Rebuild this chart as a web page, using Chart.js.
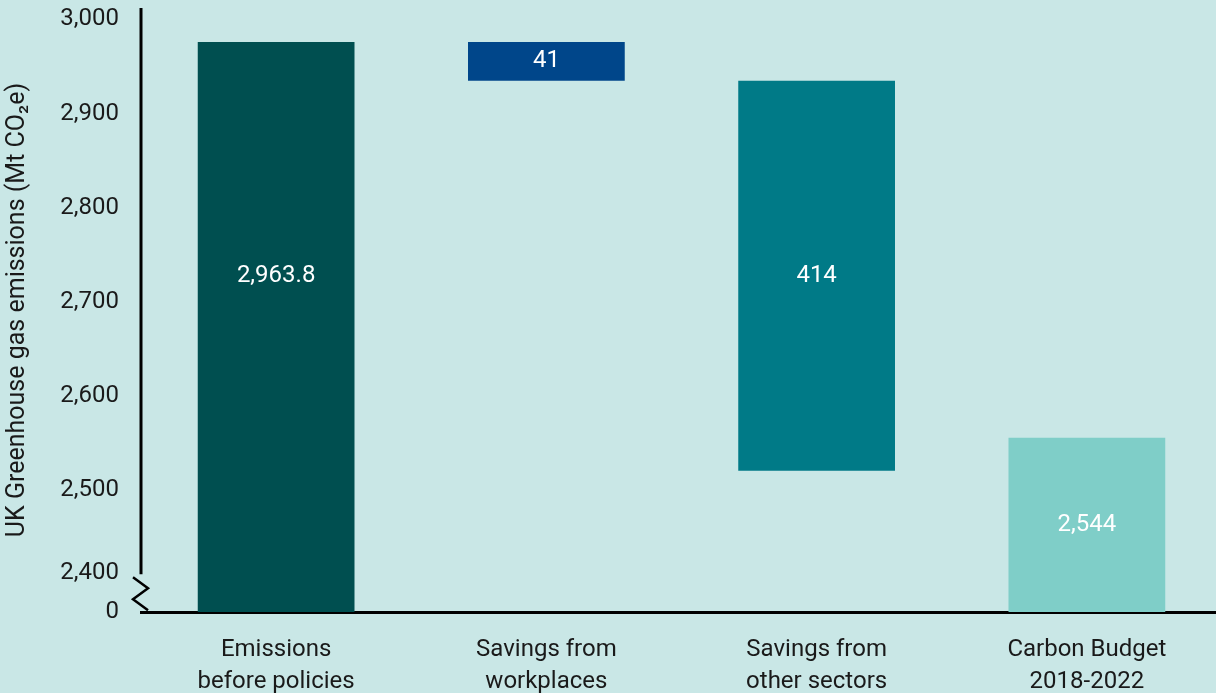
<!DOCTYPE html>
<html>
<head>
<meta charset="utf-8">
<script src="https://cdn.jsdelivr.net/npm/chart.js@4"></script>
<style>
  body { margin: 0; background: #c9e7e6; overflow: hidden; }
  #wrap { width: 1222px; height: 693px; position: relative; }
</style>
</head>
<body>
<div id="wrap"><canvas id="myChart"></canvas></div>
<script>
// data
var categories = [['Emissions', 'before policies'], ['Savings from', 'workplaces'], ['Savings from', 'other sectors'], ['Carbon Budget', '2018-2022']];
var startTotal = 2963.8;
var savings = [41, 414];
var budget = 2544;
var valueText = ['2,963.8', '41', '414', '2,544'];
var barColors = ['#004f50', '#00468a', '#007a87', '#7fcec8'];
var yTickValues = [0, 2400, 2500, 2600, 2700, 2800, 2900, 3000];
var yTickText = ['0', '2,400', '2,500', '2,600', '2,700', '2,800', '2,900', '3,000'];

// axis is broken between 0 and 2,400: bottom of plot stands for 0
var axisFloor = 2359;
var axisTop = 3000;
var labelDrop = 12;   // tick labels sit a little below their tick in the original

// waterfall steps
var afterWork = startTotal - savings[0];
var afterOther = afterWork - savings[1];
var floating = [
    [axisFloor, startTotal],
    [afterWork, startTotal],
    [afterOther, afterWork],
    [axisFloor, budget]
];

var FONT = 'Roboto, "Liberation Sans", sans-serif';
var INK = '#1a1a1a';

// y axis line with break mark + bar value labels
var extras = {
    id: 'extras',
    afterDraw: function(chart) {
        var ctx = chart.ctx;
        var area = chart.chartArea;
        var y = chart.scales.y;
        var x0 = area.left;
        var yb = y.getPixelForValue(2400) + 1;
        ctx.save();
        ctx.strokeStyle = '#000';
        ctx.lineWidth = 3;
        ctx.beginPath();
        ctx.moveTo(x0, area.top);
        ctx.lineTo(x0, yb);
        ctx.stroke();
        ctx.lineWidth = 2.5;
        ctx.beginPath();
        ctx.moveTo(x0 - 8, yb + 3);
        ctx.lineTo(x0 + 7, yb + 14);
        ctx.lineTo(x0 - 8, yb + 25);
        ctx.lineTo(x0 + 7, yb + 36);
        ctx.stroke();

        // value labels; first bar shares its label row with the third bar
        var meta = chart.getDatasetMeta(0);
        ctx.fillStyle = '#ffffff';
        ctx.font = '24px ' + FONT;
        ctx.textAlign = 'center';
        ctx.textBaseline = 'middle';
        var mid = function(el) { return (el.y + el.base) / 2; };
        meta.data.forEach(function(el, i) {
            var ly = mid(el);
            if (i === 0) ly = mid(meta.data[2]);
            ctx.fillText(valueText[i], el.x, ly);
        });
        ctx.restore();
    }
};

var ctx = document.getElementById('myChart');
var myChart = new Chart(ctx, {
    type: 'bar',
    data: {
        labels: categories,
        datasets: [{
            data: floating,
            backgroundColor: barColors,
            borderWidth: 0,
            borderSkipped: false,
            barPercentage: 0.58,
            categoryPercentage: 1
        }]
    },
    options: {
        responsive: true,
        maintainAspectRatio: false,
        animation: false,
        layout: { padding: { top: 8, right: 0, left: 0, bottom: 0 } },
        plugins: {
            legend: { display: false },
            tooltip: { enabled: false }
        },
        scales: {
            x: {
                grid: { display: false, drawTicks: false },
                border: { display: true, color: '#000', width: 3 },
                ticks: {
                    color: INK,
                    font: { family: FONT, size: 24, lineHeight: 1.33 },
                    padding: 22,
                    maxRotation: 0,
                    autoSkip: false
                },
                afterFit: function(s) {
                    s.height = 81;
                    s.paddingLeft = 0;
                    s.paddingRight = 0;
                }
            },
            y: {
                min: axisFloor,
                max: axisTop,
                grid: { display: false, drawTicks: false },
                border: { display: false },
                title: {
                    display: true,
                    text: 'UK Greenhouse gas emissions (Mt CO\u2082e)',
                    color: INK,
                    font: { family: FONT, size: 25 },
                    padding: { top: 3, bottom: 0 }
                },
                ticks: {
                    color: INK,
                    font: { family: FONT, size: 24 },
                    padding: 22,
                    autoSkip: false,
                    callback: function(v, i) { return yTickText[i]; }
                },
                afterBuildTicks: function(s) {
                    s.ticks = yTickValues.map(function(v) {
                        if (v === 0) return { value: axisFloor };
                        if (v === 2400) return { value: v };
                        return { value: v - labelDrop };
                    });
                },
                afterFit: function(s) {
                    s.width = 141;
                    s.paddingTop = 0;
                    s.paddingBottom = 0;
                }
            }
        }
    },
    plugins: [extras]
});
</script>
</body>
</html>
